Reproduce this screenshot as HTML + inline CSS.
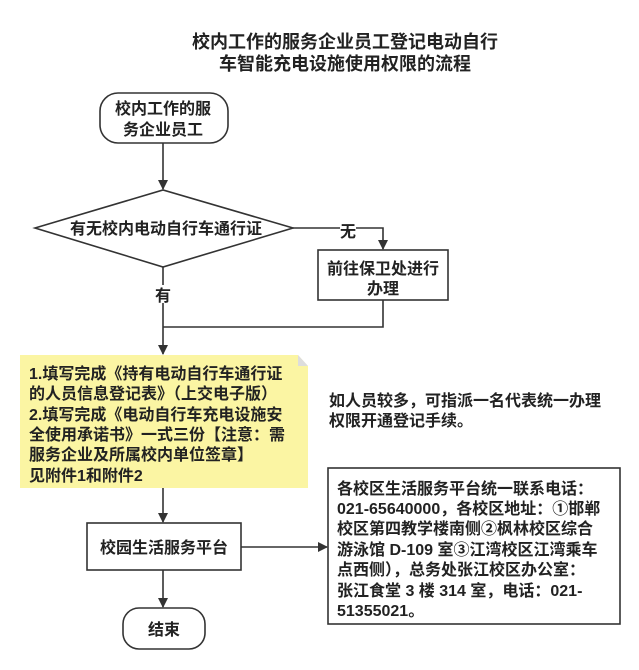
<!DOCTYPE html>
<html><head><meta charset="utf-8"><style>
html,body{margin:0;padding:0;background:#fff;}
svg{display:block;}
text{font-family:"Liberation Sans","Noto Sans CJK SC",sans-serif;font-weight:bold;fill:#222;}
</style></head><body>
<svg width="639" height="670" viewBox="0 0 639 670" xmlns="http://www.w3.org/2000/svg">
<defs><marker id="a" markerWidth="10" markerHeight="10" refX="9" refY="5" orient="auto" markerUnits="userSpaceOnUse"><path d="M0,0 L10,5 L0,10 z" fill="#333"/></marker></defs>
<text x="345" y="48" font-size="18" text-anchor="middle">校内工作的服务企业员工登记电动自行</text>
<text x="345" y="70" font-size="18" text-anchor="middle">车智能充电设施使用权限的流程</text>
<g stroke="#333" stroke-width="1.6" fill="none">
<rect x="100" y="93" width="128" height="50" rx="18" fill="#fff"/>
<line x1="163" y1="143" x2="163" y2="189" marker-end="url(#a)"/>
<polygon points="35,228 163,190 293,228 163,267" fill="#fff"/>
<polyline points="293,228 383,228 383,249" marker-end="url(#a)"/>
<rect x="318" y="250" width="130" height="50" fill="#fff"/>
<polyline points="383,300 383,327 163,327"/>
<line x1="163" y1="267" x2="163" y2="354" marker-end="url(#a)"/>
<line x1="163" y1="488" x2="163" y2="522" marker-end="url(#a)"/>
<rect x="87" y="523" width="154" height="47" fill="#fff"/>
<line x1="241" y1="547" x2="327" y2="547" marker-end="url(#a)"/>
<line x1="163" y1="570" x2="163" y2="607" marker-end="url(#a)"/>
<rect x="123" y="608" width="82" height="41" rx="16" fill="#fff"/>
<rect x="328" y="468" width="292" height="156" fill="#fff"/>
</g>
<polygon points="20,355 298,355 308,366 308,488 20,488" fill="#fbf5a3"/>
<polygon points="298,355 308,366 298,366" fill="#ddd"/>
<rect x="155" y="285" width="16" height="18" fill="#fff"/>
<rect x="340" y="221" width="16" height="16" fill="#fff"/>
<g font-size="16">
<text x="163" y="114" text-anchor="middle">校内工作的服</text>
<text x="163" y="135" text-anchor="middle">务企业员工</text>
<text x="166" y="234" text-anchor="middle">有无校内电动自行车通行证</text>
<text x="348" y="237" text-anchor="middle">无</text>
<text x="383" y="274" text-anchor="middle">前往保卫处进行</text>
<text x="383" y="294" text-anchor="middle">办理</text>
<text x="163" y="301" text-anchor="middle">有</text>
<text x="29" y="379">1.填写完成《持有电动自行车通行证</text>
<text x="29" y="399">的人员信息登记表》（上交电子版）</text>
<text x="29" y="420">2.填写完成《电动自行车充电设施安</text>
<text x="29" y="440">全使用承诺书》一式三份【注意：需</text>
<text x="29" y="460">服务企业及所属校内单位签章】</text>
<text x="29" y="481">见附件1和附件2</text>
<text x="329" y="406">如人员较多，可指派一名代表统一办理</text>
<text x="329" y="426">权限开通登记手续。</text>
<text x="164" y="553" text-anchor="middle">校园生活服务平台</text>
<text x="164" y="635" text-anchor="middle">结束</text>
<text x="337" y="494">各校区生活服务平台统一联系电话：</text>
<text x="337" y="514">021-65640000，各校区地址：①邯郸</text>
<text x="337" y="534">校区第四教学楼南侧②枫林校区综合</text>
<text x="337" y="555">游泳馆 D-109 室③江湾校区江湾乘车</text>
<text x="337" y="575">点西侧），总务处张江校区办公室：</text>
<text x="337" y="596">张江食堂 3 楼 314 室，电话：021-</text>
<text x="337" y="616">51355021。</text>
</g>
</svg>
</body></html>
